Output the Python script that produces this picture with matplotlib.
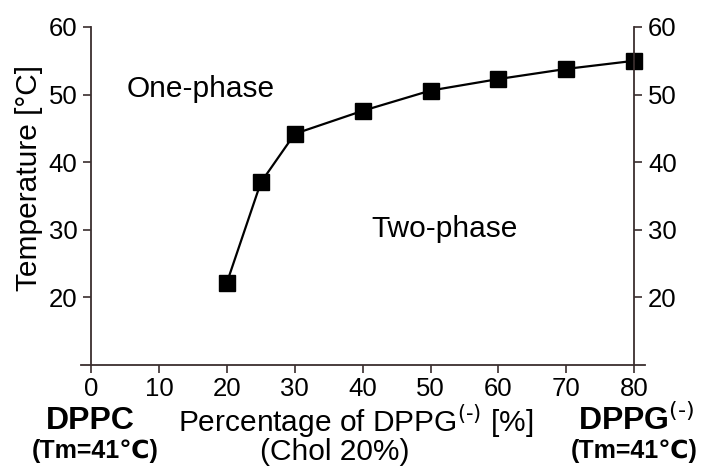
import matplotlib.pyplot as plt

plt.rcParams['font.family'] = ['Liberation Sans', 'DejaVu Sans']
plt.rcParams['mathtext.default'] = 'regular'

# data
chol_pg_pct = [20, 25, 30, 40, 50, 60, 70, 80]
temperature = [22.2, 37.0, 44.2, 47.6, 50.6, 52.3, 53.8, 55.0]
x_ticks = [0, 10, 20, 30, 40, 50, 60, 70, 80]
y_ticks = [20, 30, 40, 50, 60]

W, H = 701, 466
SPINE = '#3a2e2e'

fig = plt.figure(figsize=(W / 100, H / 100), dpi=100)
ax = fig.add_axes([81 / W, 1 - 365 / H, (645 - 81) / W, (365 - 27) / H])

ax.plot(chol_pg_pct, temperature, color='black', lw=1.6, marker='s',
        markersize=11, markerfacecolor='black', markeredgecolor='black')

ax.set_xlim(-1.5, 81.6)
ax.set_ylim(10, 60)
ax.set_xticks(x_ticks)
ax.set_yticks(y_ticks)

ax.spines['top'].set_visible(False)
ax.spines['left'].set_position(('data', 0))
ax.spines['right'].set_position(('data', 80))
for s in ['left', 'right', 'bottom']:
    ax.spines[s].set_color(SPINE)
    ax.spines[s].set_linewidth(1.3)

ax.tick_params(axis='both', direction='out', length=6, width=1.2,
               color=SPINE, labelsize=18.5, pad=3)
ax.tick_params(axis='y', right=True, labelright=True, pad=4)

ax.text(16.2, 50.9, 'One-phase', fontsize=21.5, ha='center', va='center')
ax.text(52.0, 30.1, 'Two-phase', fontsize=21.5, ha='center', va='center')

# y label and the labels under the axis
fig.text(29 / W, 1 - 178 / H, 'Temperature [°C]', fontsize=21.5,
         rotation=90, ha='center', va='center')
fig.text(90 / W, 1 - 421 / H, 'DPPC', fontsize=23, fontweight='bold',
         ha='center', va='center')
fig.text(95 / W, 1 - 451 / H, '(Tm=41℃)', fontsize=18, fontweight='bold',
         ha='center', va='center')
fig.text(356 / W, 1 - 421 / H, r'Percentage of DPPG$^{\text{(-)}}$ [%]',
         fontsize=21.5, ha='center', va='center')
fig.text(335 / W, 1 - 452 / H, '(Chol 20%)', fontsize=21.5,
         ha='center', va='center')
fig.text(636 / W, 1 - 421 / H, r'DPPG$^{\text{(-)}}$', fontsize=23,
         fontweight='bold', ha='center', va='center')
fig.text(634 / W, 1 - 451 / H, '(Tm=41℃)', fontsize=18, fontweight='bold',
         ha='center', va='center')

fig.savefig('out.png', dpi=100)
